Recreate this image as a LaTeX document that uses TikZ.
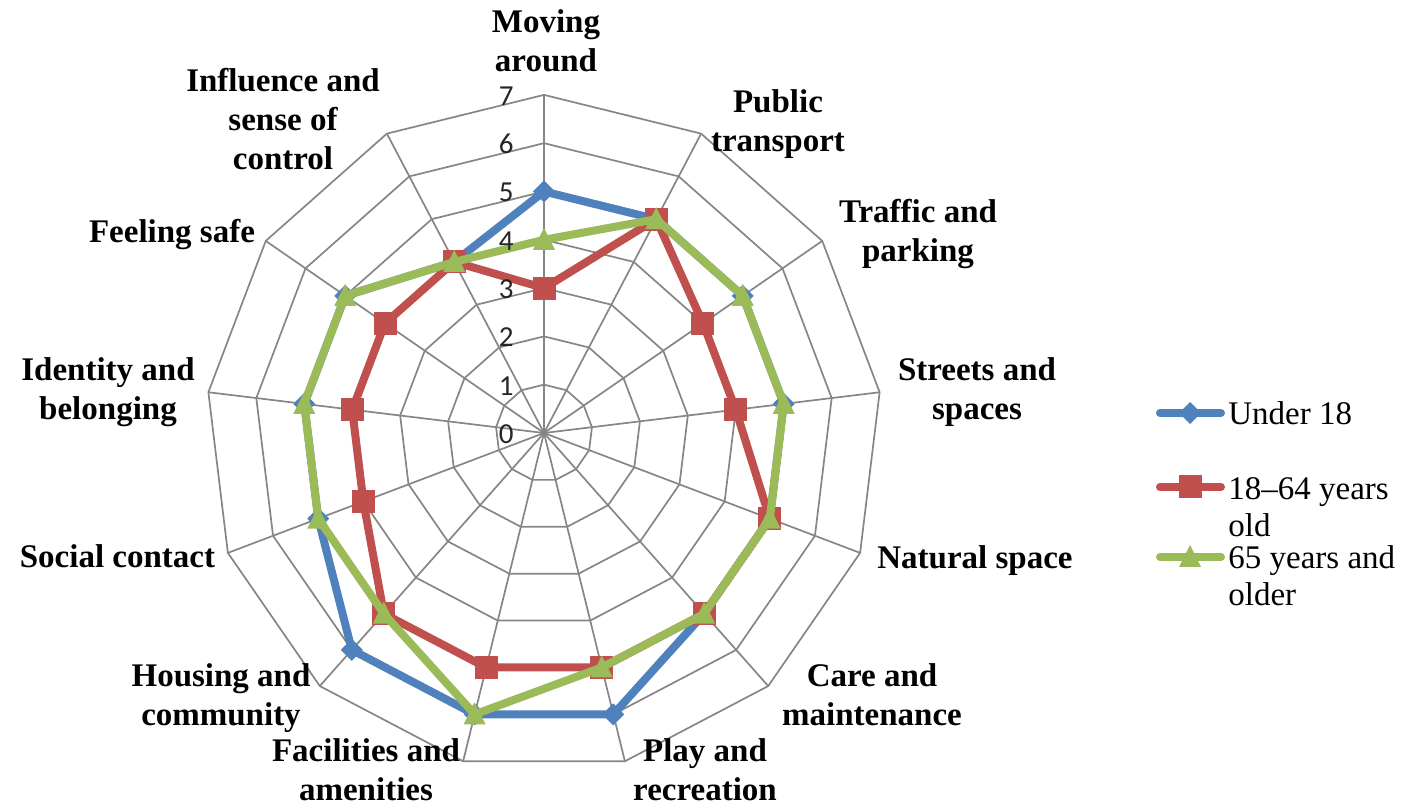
\documentclass[tikz,border=0pt]{standalone}
\usepackage{fontspec}
\setmainfont{Liberation Serif}
\newfontfamily\tickfont{Carlito}
\definecolor{sblue}{HTML}{4F81BD}
\definecolor{sred}{HTML}{C0504D}
\definecolor{sgreen}{HTML}{9BBB59}
\definecolor{webgray}{RGB}{134,134,134}
\begin{document}
\begin{tikzpicture}[x=0.5pt,y=0.5pt,
  webline/.style={draw=webgray, line width=0.85pt},
  series/.style={line width=4pt, line join=round},
  catlabel/.style={anchor=base, inner sep=0pt, font=\fontsize{16.5pt}{19.5pt}\selectfont\bfseries},
  legtext/.style={anchor=base west, inner sep=0pt, font=\fontsize{16.5pt}{18.5pt}\selectfont},
  ticklabel/.style={anchor=east, inner sep=0pt, text=black!85, font=\fontsize{14.5pt}{17pt}\selectfont\tickfont}]
\useasboundingbox (0,0) rectangle (1404,808);
\fill[white] (0,0) rectangle (1404,808);
\begin{scope}[shift={(544,375)}]
  % web
  \foreach \l in {1,...,7} {
    \draw[webline] (90:\l*48.3) \foreach \k in {1,...,12} { -- ({90-\k*360/13}:\l*48.3) } -- cycle;
  }
  \foreach \k in {0,...,12} \draw[webline] (0,0) -- ({90-\k*360/13}:7*48.3);
  % data points
  \foreach \v [count=\k from 0] in {5,5,5,5,5,5,6,6,6,5,5,5,4}
    \coordinate (b\k) at ({90-\k*360/13}:\v*48.3);
  \foreach \v [count=\k from 0] in {3,5,4,4,5,5,5,5,5,4,4,4,4}
    \coordinate (r\k) at ({90-\k*360/13}:\v*48.3);
  \foreach \v [count=\k from 0] in {4,5,5,5,5,5,5,6,5,5,5,5,4}
    \coordinate (g\k) at ({90-\k*360/13}:\v*48.3);
\end{scope}
% Under 18
\draw[series, sblue] (b0) \foreach \k in {1,...,12} { -- (b\k) } -- cycle;
\foreach \k in {0,...,12}
  \fill[sblue] ([shift={(0,11)}]b\k) -- ++(11,-11) -- ++(-11,-11) -- ++(-11,11) -- cycle;
% 18-64
\draw[series, sred] (r0) \foreach \k in {1,...,12} { -- (r\k) } -- cycle;
\foreach \k in {0,...,12}
  \fill[sred] ([shift={(-11.5,-11.5)}]r\k) rectangle ++(23,23);
% 65+
\draw[series, sgreen] (g0) \foreach \k in {1,...,12} { -- (g\k) } -- cycle;
\foreach \k in {0,...,12}
  \fill[sgreen] ([shift={(0,12)}]g\k) -- ++(-11,-22) -- ++(22,0) -- cycle;
% tick labels
\foreach \l in {0,...,7}
  \node[ticklabel] (t\l) at (514,{375+\l*48.3-1}) {\l};
% category labels
\node[catlabel] (c0) at (546,775) {\begin{tabular}[t]{@{}c@{}}Moving\\around\end{tabular}};
\node[catlabel] (c1) at (778,695) {\begin{tabular}[t]{@{}c@{}}Public\\transport\end{tabular}};
\node[catlabel] (c2) at (918,585) {\begin{tabular}[t]{@{}c@{}}Traffic and\\parking\end{tabular}};
\node[catlabel] (c3) at (977,427) {\begin{tabular}[t]{@{}c@{}}Streets and\\spaces\end{tabular}};
\node[catlabel] (c4) at (975,239) {Natural space};
\node[catlabel] (c5) at (872,121) {\begin{tabular}[t]{@{}c@{}}Care and\\maintenance\end{tabular}};
\node[catlabel] (c6) at (705,46) {\begin{tabular}[t]{@{}c@{}}Play and\\recreation\end{tabular}};
\node[catlabel] (c7) at (366,46) {\begin{tabular}[t]{@{}c@{}}Facilities and\\amenities\end{tabular}};
\node[catlabel] (c8) at (221,121) {\begin{tabular}[t]{@{}c@{}}Housing and\\community\end{tabular}};
\node[catlabel] (c9) at (117.5,240) {Social contact};
\node[catlabel] (c10) at (108,427) {\begin{tabular}[t]{@{}c@{}}Identity and\\belonging\end{tabular}};
\node[catlabel] (c11) at (172,565) {Feeling safe};
\node[catlabel] (c12) at (283,716) {\begin{tabular}[t]{@{}c@{}}Influence and\\sense of\\control\end{tabular}};
% legend
\coordinate (la1) at (1160,395); \coordinate (lb1) at (1221,395); \coordinate (lm1) at (1190,395);
\coordinate (la2) at (1160,321); \coordinate (lb2) at (1221,321); \coordinate (lm2) at (1190,321);
\coordinate (la3) at (1160,251); \coordinate (lb3) at (1221,251); \coordinate (lm3) at (1190,251);
\draw[series, sblue, line cap=round] (la1) -- (lb1);
\fill[sblue] ([shift={(0,11)}]lm1) -- ++(11,-11) -- ++(-11,-11) -- ++(-11,11) -- cycle;
\draw[series, sred, line cap=round] (la2) -- (lb2);
\fill[sred] ([shift={(-11.5,-11.5)}]lm2) rectangle ++(23,23);
\draw[series, sgreen, line cap=round] (la3) -- (lb3);
\fill[sgreen] ([shift={(0,12)}]lm3) -- ++(-11,-22) -- ++(22,0) -- cycle;
\node[legtext] (lt1) at (1228,383) {Under 18};
\node[legtext] (lt2) at (1228,308) {\begin{tabular}[t]{@{}l@{}}18–64 years\\old\end{tabular}};
\node[legtext] (lt3) at (1228,239) {\begin{tabular}[t]{@{}l@{}}65 years and\\older\end{tabular}};
\end{tikzpicture}
\end{document}
